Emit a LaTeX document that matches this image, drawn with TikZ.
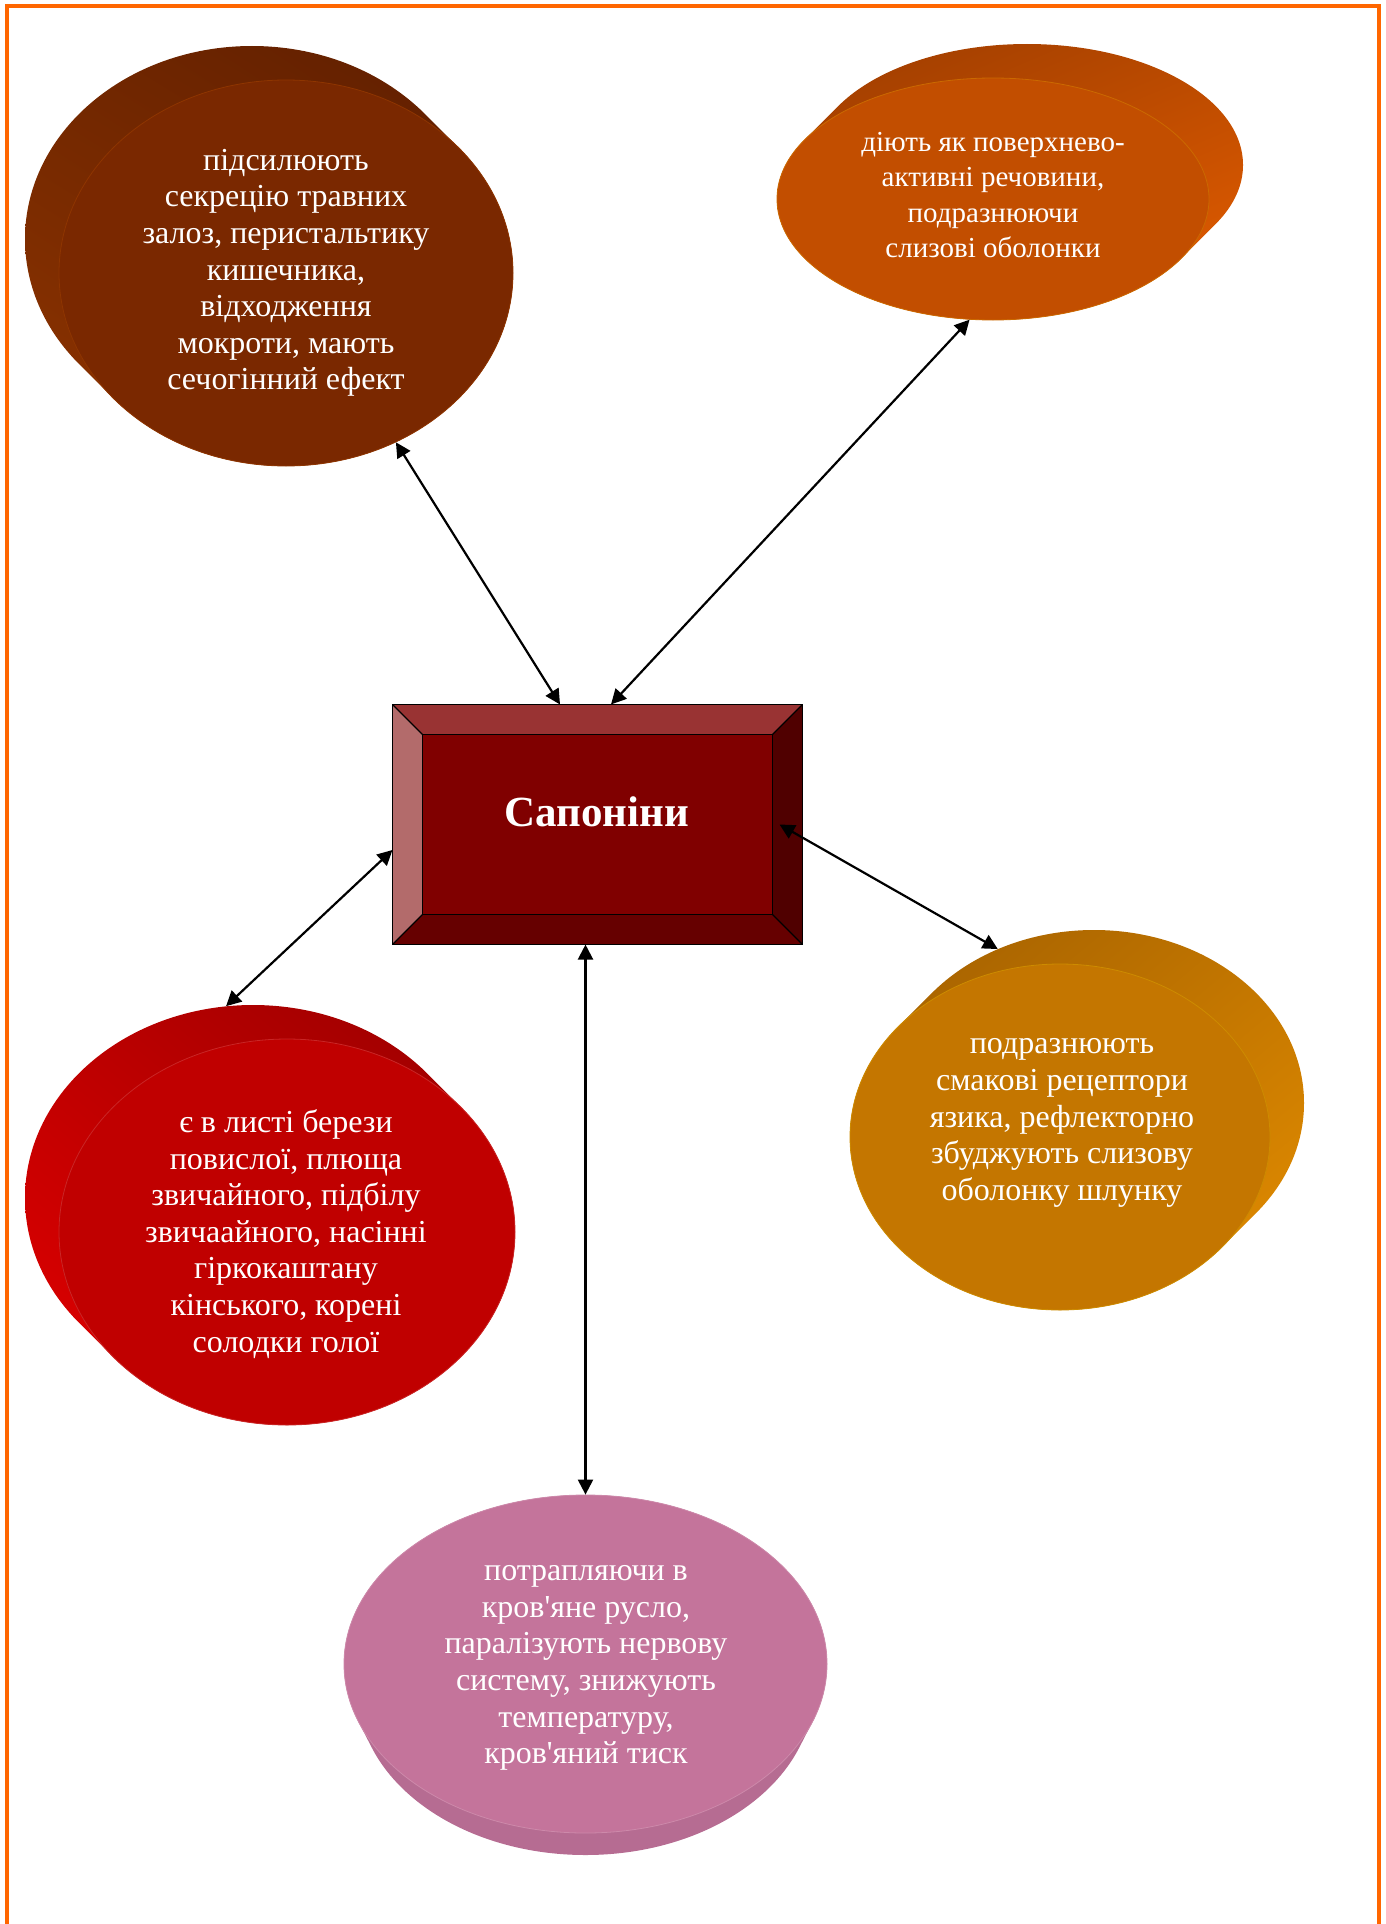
\documentclass[tikz,border=0pt]{standalone}
\usepackage{fontspec}
\setmainfont{Liberation Serif}[Ligatures=TeXOff]
\usetikzlibrary{arrows.meta,calc,shapes.geometric,shadings}

% face colours
\definecolor{frameC}{HTML}{FF6600}
\definecolor{brownF}{HTML}{7A2800}
\definecolor{orangeF}{HTML}{C24E00}
\definecolor{amberF}{HTML}{C47600}
\definecolor{redF}{HTML}{C00000}
\definecolor{pinkF}{HTML}{C4749B}
% side colours
\definecolor{brownDark}{HTML}{5E1E00}
\definecolor{brownLight}{HTML}{8E3400}
\definecolor{orangeDark}{HTML}{9C3C00}
\definecolor{orangeLight}{HTML}{E65E00}
\definecolor{amberDark}{HTML}{A05E00}
\definecolor{amberLight}{HTML}{E58E00}
\definecolor{redDark}{HTML}{980000}
\definecolor{redLight}{HTML}{E20000}
\definecolor{pinkDark}{HTML}{9A5A7C}
\definecolor{pinkLight}{HTML}{B66C92}
% box colours
\definecolor{boxC}{HTML}{800000}
\definecolor{bevTop}{HTML}{993333}
\definecolor{bevLeft}{HTML}{B36B6B}
\definecolor{bevRight}{HTML}{500000}
\definecolor{bevBottom}{HTML}{660000}

\begin{document}
\begin{tikzpicture}[x=1pt,y=-1pt,
  face/.style={ellipse, inner sep=0pt, line width=0.8pt},
  ghost/.style={ellipse, inner sep=0pt},
  txt/.style={text=white, align=center, inner sep=0pt,
    font=\fontsize{32}{36.6}\selectfont},
  link/.style={{Triangle[length=15pt,width=15pt]}-{Triangle[length=15pt,width=15pt]},
    line width=2.2pt, black},
  bevel/.style={draw=black, line width=1.1pt, line join=miter}]
\useasboundingbox (0,0) rectangle (1386,1924);

% outer frame (open at the bottom)
\draw[frameC, line width=4pt, line join=miter]
  (7.3,1924) -- (7.3,6) -- (1379,6) -- (1379,1924);

% ---- extruded sides of the discs ----
% top left, extruded to the upper left
\shade[upper left=brownDark!60!brownLight, upper right=brownDark,
       lower left=brownLight, lower right=brownF]
  \foreach \i in {0,...,30} { ({286-34*\i/30},{273-34*\i/30}) ellipse [x radius=227, y radius=193] };
% top right, extruded to the upper right
\shade[upper left=orangeDark, upper right=orangeDark!60!orangeLight,
       lower left=orangeF, lower right=orangeLight]
  \foreach \i in {0,...,30} { ({993+34*\i/30},{199-34*\i/30}) ellipse [x radius=216, y radius=121] };
% right, extruded to the upper right
\shade[upper left=amberDark, upper right=amberDark!50!amberLight,
       lower left=amberF, lower right=amberLight]
  \foreach \i in {0,...,30} { ({1060+34*\i/30},{1137-34*\i/30}) ellipse [x radius=210, y radius=173] };
% lower left, extruded to the upper left
\shade[upper left=redDark!50!redLight, upper right=redDark,
       lower left=redLight, lower right=redF]
  \foreach \i in {0,...,30} { ({287-34*\i/30},{1232-34*\i/30}) ellipse [x radius=228, y radius=193] };
% bottom, extruded downwards
\shade[left color=pinkLight, middle color=pinkDark, right color=pinkLight]
  \foreach \i in {0,...,30} { (585.5,{1664+26*\i/30}) ellipse [x radius={241.5-13.5*\i/30}, y radius={169-4*\i/30}] };

% ---- front faces ----
\node[face, fill=brownF, draw=brownF!85!orange,
      minimum width=454pt, minimum height=386pt] (tl) at (286,273) {};
\node[face, fill=orangeF, draw=orangeF!85!yellow,
      minimum width=432pt, minimum height=242pt] (tr) at (993,199) {};
\node[face, fill=amberF, draw=amberF!85!yellow,
      minimum width=420pt, minimum height=346pt] (am) at (1060,1137) {};
\node[face, fill=redF, draw=redF!85!white,
      minimum width=456pt, minimum height=386pt] (rd) at (287,1232) {};
\node[face, fill=pinkF, draw=pinkF!85!white,
      minimum width=483pt, minimum height=338pt] (pk) at (585.5,1664) {};

% back rims used as arrow targets
\node[ghost, minimum width=420pt, minimum height=346pt] (amB) at (1094,1103) {};
\node[ghost, minimum width=456pt, minimum height=386pt] (rdB) at (253,1198) {};

% ---- texts ----
\node[txt] (tlT) at (286,273) {підсилюють\\секрецію травних\\залоз, перистальтику\\кишечника,\\відходження\\мокроти, мають\\сечогінний ефект};
\node[txt, font=\fontsize{29}{35.6}\selectfont] (trT) at (993,195) {діють як поверхнево-\\активні речовини,\\подразнюючи\\слизові оболонки};
\node[txt] (amT) at (1062,1123) {подразнюють\\смакові рецептори\\язика, рефлекторно\\збуджують слизову\\оболонку шлунку};
\node[txt] (rdT) at (286,1234) {є в листі берези\\повислої, плюща\\звичайного, підбілу\\звичаайного, насінні\\гіркокаштану\\кінського, корені\\солодки голої};
\node[txt] (pkT) at (586,1668) {потрапляючи в\\кров'яне русло,\\паралізують нервову\\систему, знижують\\температуру,\\кров'яний тиск};

% ---- central bevelled box ----
\node[draw=black, line width=1.1pt, fill=boxC, inner sep=0pt,
      minimum width=409pt, minimum height=239pt] (sap) at (597.5,824.5) {};
\fill[bevTop] (sap.north west) -- (sap.north east) -- ($(sap.north east)+(-30,30)$) -- ($(sap.north west)+(30,30)$) -- cycle;
\fill[bevLeft] (sap.north west) -- ($(sap.north west)+(30,30)$) -- ($(sap.south west)+(30,-30)$) -- (sap.south west) -- cycle;
\fill[bevRight] (sap.north east) -- (sap.south east) -- ($(sap.south east)+(-30,-30)$) -- ($(sap.north east)+(-30,30)$) -- cycle;
\fill[bevBottom] (sap.south west) -- (sap.south east) -- ($(sap.south east)+(-30,-30)$) -- ($(sap.south west)+(30,-30)$) -- cycle;
\draw[bevel] (sap.north west) rectangle (sap.south east);
\draw[bevel] ($(sap.north west)+(30,30)$) rectangle ($(sap.south east)+(-30,-30)$);
\draw[bevel] (sap.north west) -- ++(30,30);
\draw[bevel] (sap.north east) -- ++(-30,30);
\draw[bevel] (sap.south west) -- ++(30,-30);
\draw[bevel] (sap.south east) -- ++(-30,-30);
\node[text=white, font=\fontsize{43}{48}\selectfont\bfseries] (sapT) at (597,812) {Сапоніни};

% ---- connectors ----
\coordinate (sapTL) at ($(sap.north)+(-37.5,0)$);
\coordinate (sapTR) at ($(sap.north)+(13.5,0)$);
\coordinate (sapL) at ($(sap.west)+(0,25.5)$);
\coordinate (sapR) at ($(sap.east)+(-23,0)$);
\draw[link] (tl.-57.3) -- (sapTL);
\draw[link] (tr.-101.6) -- (sapTR);
\draw[link] (sapR) -- (amB.122.5);
\draw[link] (sapL) -- (rdB.98);
\draw[link] (pk.north |- sap.south) -- (pk.north);
\end{tikzpicture}
\end{document}
